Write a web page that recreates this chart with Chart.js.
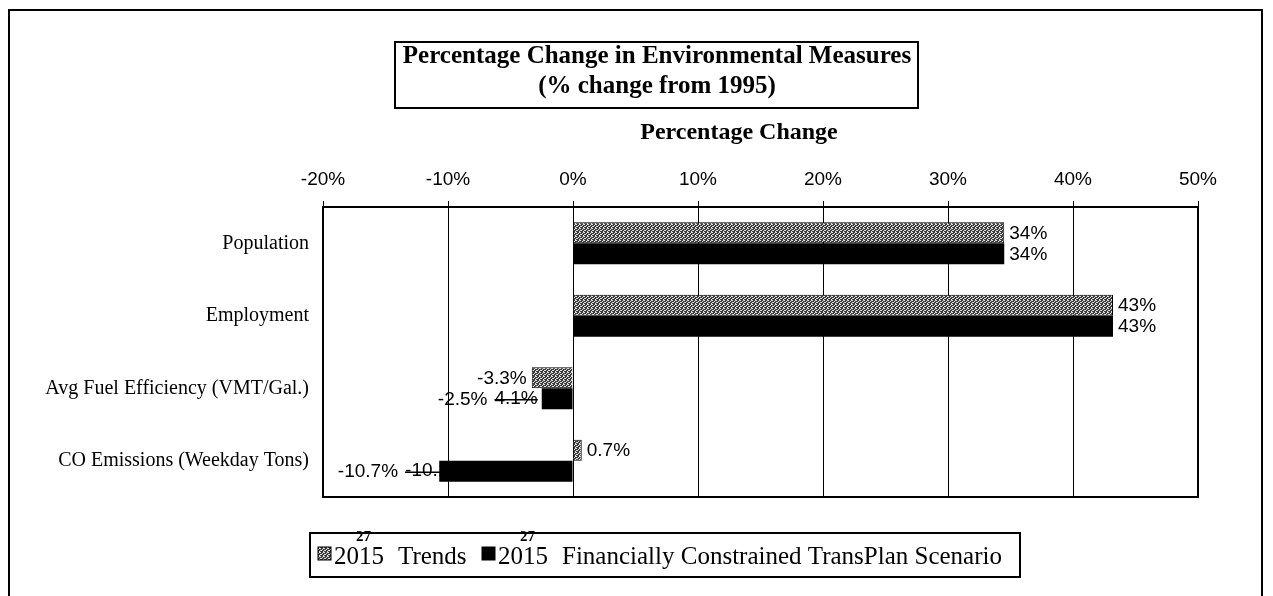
<!DOCTYPE html>
<html>
<head>
<meta charset="utf-8">
<script src="https://cdn.jsdelivr.net/npm/chart.js@4"></script>
<style>
  body { margin: 0; background: #fff; }
  #wrap { width: 1273px; height: 596px; }
</style>
</head>
<body>
<div id="wrap"><canvas id="envChart" width="1273" height="596"></canvas></div>
<script>
"use strict";

// data
const categories = [
  'Population',
  'Employment',
  'Avg Fuel Efficiency (VMT/Gal.)',
  'CO Emissions (Weekday Tons)'
];
const trends = [34.5, 43.2, -3.3, 0.7];
const transPlan = [34.5, 43.2, -2.5, -10.7];
const trendLabels = ['34%', '43%', '-3.3%', '0.7%'];
const transPlanLabels = ['34%', '43%', '-2.5%', '-10.7%'];
// struck-out labels left over on the scan
const struckLabels = ['', '', '4.1%', '-10.1%'];
const seriesNames = ['2015 Trends', '2015 Financially Constrained TransPlan Scenario'];
const xMin = -20, xMax = 50, xStep = 10;

const titleLines = ['Percentage Change in Environmental Measures', '(% change from 1995)'];
const axisTitle = 'Percentage Change';

// speckled grey fill like the scan
let makePattern = function () {
  let c = document.createElement('canvas');
  c.width = 4; c.height = 4;
  let p = c.getContext('2d');
  p.fillStyle = '#3c3c3c';
  p.fillRect(0, 0, 4, 4);
  p.fillStyle = '#e0e0e0';
  [[0, 0], [2, 1], [1, 2], [3, 3], [3, 0], [0, 2]].forEach(function (d) { p.fillRect(d[0], d[1], 1, 1); });
  return p.createPattern(c, 'repeat');
};

const ctx = document.getElementById('envChart').getContext('2d');
const greyFill = makePattern();
const labelFont = '19px "Liberation Sans", Arial, sans-serif';

let drawStruck = function (c, text, x, y) {
  c.textAlign = 'left';
  c.fillText(text, x, y);
  let w = c.measureText(text).width;
  c.beginPath();
  c.moveTo(x, y + 1);
  c.lineTo(x + w, y + 1);
  c.lineWidth = 1.3;
  c.stroke();
  return w;
};

const decor = {
  id: 'decor',
  beforeDatasetsDraw(chart) {
    // struck labels go under the bars (the CO one is half hidden)
    const c = chart.ctx;
    const meta = chart.getDatasetMeta(1);
    c.save();
    c.font = labelFont;
    c.fillStyle = '#000';
    c.strokeStyle = '#000';
    c.textBaseline = 'middle';
    meta.data.forEach(function (bar, i) {
      if (!struckLabels[i]) return;
      let w = c.measureText(struckLabels[i]).width;
      let start = Math.min(bar.x, bar.base);
      drawStruck(c, struckLabels[i], start - 4 - w + (transPlan[i] < -5 ? 30 : 0), bar.y);
    });
    c.restore();
  },
  afterDatasetsDraw(chart) {
    const c = chart.ctx;
    const a = chart.chartArea;
    c.save();
    c.fillStyle = '#000';
    c.textBaseline = 'middle';
    c.font = labelFont;
    [trendLabels, transPlanLabels].forEach(function (labels, di) {
      const meta = chart.getDatasetMeta(di);
      meta.data.forEach(function (bar, i) {
        let v = chart.data.datasets[di].data[i];
        if (v >= 0) {
          c.textAlign = 'left';
          c.fillText(labels[i], bar.x + 5, bar.y + 1);
        } else {
          c.textAlign = 'right';
          let gap = 5;
          if (struckLabels[i] && di === 1) gap += c.measureText(struckLabels[i]).width + 6 - (v < -5 ? 30 : 0);
          c.fillText(labels[i], bar.x - gap, bar.y + 1);
        }
      });
    });

    // plot frame
    c.strokeStyle = '#000';
    c.lineWidth = 2;
    c.strokeRect(a.left, a.top, a.right - a.left, a.bottom - a.top);
    c.restore();
  },
  afterDraw(chart) {
    const c = chart.ctx;
    c.save();
    c.strokeStyle = '#000';
    c.fillStyle = '#000';

    // outer frame
    c.lineWidth = 2;
    c.beginPath();
    c.moveTo(9, 596);
    c.lineTo(9, 10);
    c.lineTo(1262, 10);
    c.lineTo(1262, 596);
    c.stroke();

    // title box
    c.strokeRect(395, 42, 523, 66);
    c.font = 'bold 25px "Liberation Serif", "Times New Roman", serif';
    c.textAlign = 'center';
    c.textBaseline = 'middle';
    c.fillText(titleLines[0], 657, 57);
    c.fillText(titleLines[1], 657, 87);

    // axis title
    c.font = 'bold 24px "Liberation Serif", "Times New Roman", serif';
    c.fillText(axisTitle, 739, 133);

    // legend box
    c.lineWidth = 2;
    c.strokeRect(310, 533, 710, 44);
    c.font = '25px "Liberation Serif", "Times New Roman", serif';
    c.textAlign = 'left';
    let xs = [318, 482], y = 557;
    chart.data.datasets.forEach(function (ds, i) {
      let x = xs[i];
      let cut = ds.label.indexOf(' ');
      c.fillStyle = ds.backgroundColor;
      c.fillRect(x, y - 10, 13, 13);
      c.lineWidth = 1;
      c.strokeRect(x, y - 10, 13, 13);
      c.fillStyle = '#000';
      // year is widened on the scan by a hand correction
      c.fillText(ds.label.slice(0, cut), x + 16, y);
      c.fillText(ds.label.slice(cut + 1), x + 80, y);
      c.save();
      c.font = 'bold 15px "Liberation Serif", serif';
      c.fillText('27', x + 38, y - 20);
      c.restore();
    });
    c.restore();
  }
};

const config = {
  type: 'bar',
  data: {
    labels: categories,
    datasets: [
      {
        label: seriesNames[0],
        data: trends,
        backgroundColor: greyFill,
        borderColor: '#000',
        borderWidth: 1,
        categoryPercentage: 0.58,
        barPercentage: 1.0
      },
      {
        label: seriesNames[1],
        data: transPlan,
        backgroundColor: '#000',
        borderColor: '#000',
        borderWidth: 0,
        categoryPercentage: 0.58,
        barPercentage: 1.0
      }
    ]
  },
  options: {
    indexAxis: 'y',
    responsive: false,
    devicePixelRatio: 1,
    animation: false,
    layout: { padding: { left: 10, right: 75, top: 150, bottom: 99 } },
    plugins: {
      legend: { display: false },
      tooltip: { enabled: false }
    },
    scales: {
      x: {
        position: 'top',
        min: xMin,
        max: xMax,
        ticks: {
          stepSize: xStep,
          padding: 10,
          color: '#000',
          font: { family: '"Liberation Sans", Arial, sans-serif', size: 19 },
          callback: function (v) { return v + '%'; }
        },
        grid: { color: '#000', lineWidth: 1, tickLength: 6, tickColor: '#000' },
        border: { display: false },
        afterFit: function (s) { s.height = 57; }
      },
      y: {
        ticks: {
          padding: 14,
          color: '#000',
          font: { family: '"Liberation Serif", "Times New Roman", serif', size: 20 }
        },
        grid: { display: false, drawTicks: false },
        border: { display: false },
        afterFit: function (s) { s.width = 313; }
      }
    }
  },
  plugins: [decor]
};

const envChart = new Chart(ctx, config);
</script>
</body>
</html>
